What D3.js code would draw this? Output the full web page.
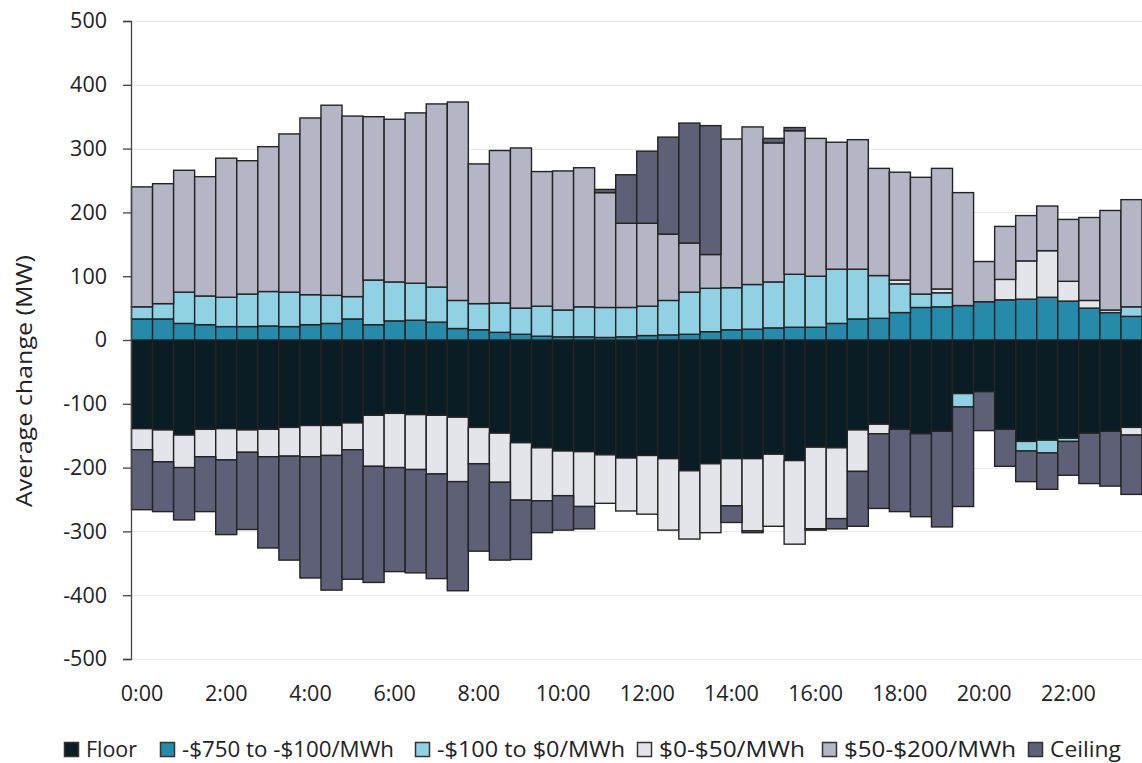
<!DOCTYPE html>
<html><head><meta charset="utf-8">
<script src="https://cdn.jsdelivr.net/npm/d3@7/dist/d3.min.js"></script>
<style>body{margin:0;background:#fff;} text{font-family:"Open Sans",sans-serif;fill:#222;}</style>
</head><body><svg id="c" width="1142" height="763"></svg>
<script>
const times = ["0:00","0:30","1:00","1:30","2:00","2:30","3:00","3:30","4:00","4:30","5:00","5:30",
"6:00","6:30","7:00","7:30","8:00","8:30","9:00","9:30","10:00","10:30","11:00","11:30",
"12:00","12:30","13:00","13:30","14:00","14:30","15:00","15:30","16:00","16:30","17:00","17:30",
"18:00","18:30","19:00","19:30","20:00","20:30","21:00","21:30","22:00","22:30","23:00","23:30"];
const tickLabels = ["0:00","2:00","4:00","6:00","8:00","10:00","12:00","14:00","16:00","18:00","20:00","22:00"];
const yTicks = [-500,-400,-300,-200,-100,0,100,200,300,400,500];
const seriesNames = ["Floor","-$750 to -$100/MWh","-$100 to $0/MWh","$0-$50/MWh","$50-$200/MWh","Ceiling"];
const seriesColors = ["#0b1d24","#268aab","#90d1e4","#e4e5ea","#b4b5c5","#5e6078"];

const floorV = [-139,-141,-149,-140,-139,-141,-140,-137,-134,-134,-130,-118,
 -115,-117,-118,-121,-137,-146,-161,-169,-174,-175,-180,-185,
 -181,-186,-205,-194,-186,-186,-179,-189,-168,-169,-141,-132,
 -140,-147,-143,-84,-81,-140,-159,-157,-154,-146,-143,-137];
const negHighV = [33,33,26,24,21,21,22,21,24,26,33,24,
 30,31,28,18,16,12,9,6,5,5,4,5,
 7,8,9,13,16,17,19,20,20,26,33,34,
 43,51,52,54,60,63,64,67,61,50,43,37];
const negLowV = [19,24,49,45,46,51,54,54,47,44,35,70,
 61,58,55,44,41,46,41,47,42,47,47,46,
 46,54,66,68,66,70,72,83,80,85,78,67,
 45,21,22,-21,0,0,-15,-20,-5,0,0,15];
const lowV = [-33,-50,-51,-43,-49,-35,-43,-45,-49,-47,-42,-80,
 -85,-86,-92,-101,-57,-77,-90,-83,-70,-86,-76,-83,
 -92,-112,-107,-108,-74,-113,-113,-131,-128,-111,-65,-15,
 6,0,6,0,0,32,60,73,31,12,4,-12];
const midV = [188,188,191,187,218,209,227,248,277,298,283,256,
 255,267,287,311,219,239,251,211,218,218,180,132,
 130,104,77,53,233,247,218,225,216,199,203,168,
 169,183,189,177,63,83,71,70,97,130,156,168];
const ceilingV = [-94,-78,-82,-86,-117,-121,-143,-163,-190,-211,-203,-182,
 -163,-162,-164,-171,-137,-122,-93,-50,-54,-35,5,76,
 113,152,188,202,-26,-3,7,5,-2,-16,-86,-117,
 -129,-130,-150,-156,-61,-58,-48,-57,-53,-79,-86,-93];

const seriesValues = [floorV, negHighV, negLowV, lowV, midV, ceilingV];
const rows = times.map((t,i) => {
  const r = {time:t};
  seriesNames.forEach((k,j) => r[k] = seriesValues[j][i]);
  return r;
});

const svg = d3.select("#c");
const x = d3.scaleBand().domain(times).range([131.5, 1142]).padding(0);
const y = d3.scaleLinear().domain([-500,500]).range([659, 21]);

// gridlines
svg.append("g").selectAll("line").data(yTicks).join("line")
  .attr("x1",131).attr("x2",1142)
  .attr("y1",d=>Math.round(y(d))+0.5).attr("y2",d=>Math.round(y(d))+0.5)
  .attr("stroke","#ebebeb").attr("stroke-width",1.2);

const stack = d3.stack().keys(seriesNames).offset(d3.stackOffsetDiverging);
const stacked = stack(rows);

const gBars = svg.append("g");
stacked.forEach((s,j) => {
  gBars.append("g").selectAll("rect")
    .data(s.filter(d => d[1] !== d[0]))
    .join("rect")
    .attr("x", d => x(d.data.time))
    .attr("width", x.bandwidth())
    .attr("y", d => y(Math.max(d[0],d[1])))
    .attr("height", d => Math.abs(y(d[0]) - y(d[1])))
    .attr("fill", seriesColors[j])
    .attr("stroke", "#232323")
    .attr("stroke-width", 1.4);
});

// y axis
const yAxis = d3.axisLeft(y).tickValues(yTicks).tickSize(8).tickPadding(16).tickFormat(d => String(d));
const ga = svg.append("g").attr("transform","translate(131,0)").call(yAxis);
ga.select(".domain").attr("stroke","#444").attr("stroke-width",1.3);
ga.selectAll(".tick line").attr("stroke","#444").attr("stroke-width",1.3);
ga.selectAll(".tick text").style("font-size","21.5px").style("font-family","'Open Sans',sans-serif").attr("fill","#222");

// x labels
svg.append("g").selectAll("text").data(tickLabels).join("text")
  .attr("x", d => x(d) + x.bandwidth()/2)
  .attr("y", 701)
  .attr("text-anchor","middle")
  .style("font-size","21.5px")
  .text(d => d);

// y title
svg.append("text")
  .attr("transform","translate(32,381) rotate(-90)")
  .attr("text-anchor","middle")
  .attr("textLength",252).attr("lengthAdjust","spacingAndGlyphs")
  .style("font-size","22.5px")
  .text("Average change (MW)");

// legend
const legendX = [64,160,415,637,822,1028];
const legendW = [51,212,188,146,172,71];
const lg = svg.append("g");
seriesNames.forEach((n,j) => {
  const lx = legendX[j];
  lg.append("rect").attr("x",lx+0.5).attr("y",742.5).attr("width",14).attr("height",14)
    .attr("fill",seriesColors[j]).attr("stroke","#333").attr("stroke-width",1.5);
  lg.append("text").attr("x",lx+22).attr("y",757).style("font-size","22px")
    .attr("textLength",legendW[j]).attr("lengthAdjust","spacingAndGlyphs").text(n);
});
</script></body></html>
